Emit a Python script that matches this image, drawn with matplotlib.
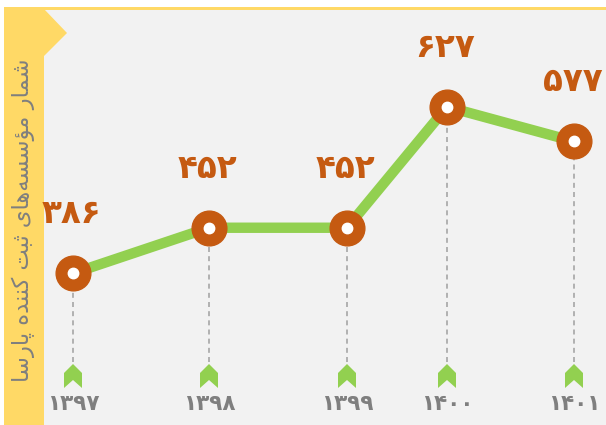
import matplotlib.pyplot as plt
from matplotlib.patches import Polygon, Rectangle

# data
years = ['۱۳۹۷', '۱۳۹۸', '۱۳۹۹', '۱۴۰۰', '۱۴۰۱']
counts = [386, 452, 452, 627, 577]

# layout: horizontal slot of each year (pixels, the source is not evenly spaced)
x_slots = [73, 209, 347, 447, 574]

FA_DIGITS = str.maketrans('0123456789', '۰۱۲۳۴۵۶۷۸۹')

# "شمار مؤسسه‌های ثبت کننده پارسا" shaped by hand (matplotlib does no arabic shaping)
shaped = [0xFEB7, 0xFEE4, 0xFE8E, 0xFEAD, 0x20,
          0xFEE3, 0xFE86, 0xFEB3, 0xFEB4, 0xFEEA, 0xFEEB, 0xFE8E, 0xFBFC, 0x20,
          0xFE9B, 0xFE92, 0xFE96, 0x20,
          0xFB90, 0xFEE8, 0xFEE8, 0xFEAA, 0xFEE9, 0x20,
          0xFB58, 0xFE8E, 0xFEAD, 0xFEB3, 0xFE8E]
title = ''.join(chr(c) for c in reversed(shaped))

YELLOW = '#ffd966'
GREEN = '#92d050'
ORANGE = '#c55a11'
GRAY_TXT = '#7f7f7f'

W, H = 606, 425
fig = plt.figure(figsize=(W / 100, H / 100), dpi=100)
fig.patch.set_facecolor('white')

# background / decoration axes in pixel units
bg = fig.add_axes([0, 0, 1, 1])
bg.set_xlim(0, W)
bg.set_ylim(H, 0)
bg.axis('off')
bg.add_patch(Rectangle((44, 9), W - 44, H - 9, facecolor='#f2f2f2', edgecolor='none'))
bg.add_patch(Rectangle((4, 7), W - 4, 3, facecolor=YELLOW, edgecolor='none'))
bg.add_patch(Rectangle((4, 7), 40, H - 7, facecolor=YELLOW, edgecolor='none'))
bg.add_patch(Polygon([(44, 9), (67, 33), (44, 56)], closed=True, facecolor=YELLOW, edgecolor='none'))
bg.text(23, 220, title, rotation=90, ha='center', va='center', fontsize=16.3,
        color=GRAY_TXT, family='DejaVu Sans')

for x, yr in zip(x_slots, years):
    chev = [(x, 364), (x + 9, 373), (x + 9, 388), (x, 380), (x - 9, 388), (x - 9, 373)]
    bg.add_patch(Polygon(chev, closed=True, facecolor=GREEN, edgecolor='none'))
    bg.text(x, 404, yr, ha='center', va='center', fontsize=15.5, fontweight='bold',
            color=GRAY_TXT, family='DejaVu Sans')

# data axes on top
ax = fig.add_axes([0, 0, 1, 1])
ax.patch.set_alpha(0)
ax.axis('off')
ax.set_xlim(0, W)
ymin, ymax = 166.5, 781.6
ax.set_ylim(ymin, ymax)
dash_bottom = ymin + (1 - 362 / H) * (ymax - ymin)

ax.vlines(x_slots, dash_bottom, counts, colors='#a6a6a6', linestyles=(0, (3, 2.5)),
          linewidth=1.2, zorder=1)
ax.plot(x_slots, counts, color=GREEN, linewidth=7.5, solid_capstyle='round', zorder=2)
ax.plot(x_slots, counts, 'o', markersize=25, color=ORANGE, zorder=3)
ax.plot(x_slots, counts, 'o', markersize=7.5, color='white', zorder=4)

for x, v in zip(x_slots, counts):
    ax.annotate(str(v).translate(FA_DIGITS), (x, v), xytext=(-1, 43), textcoords='offset points',
                ha='center', va='center', fontsize=23.5, fontweight='bold', color=ORANGE,
                family='DejaVu Sans')

fig.savefig('out.png', dpi=100)
